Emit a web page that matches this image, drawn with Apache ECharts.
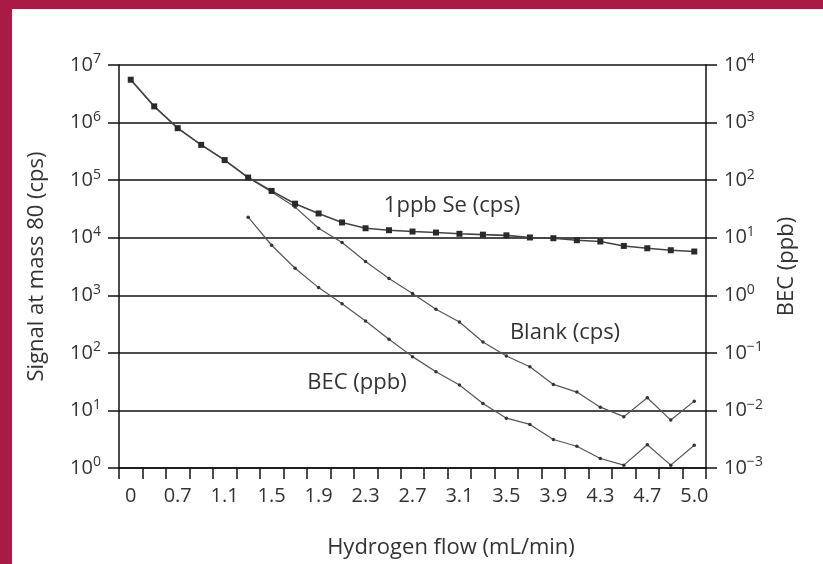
<!DOCTYPE html>
<html><head><meta charset="utf-8">
<script src="https://cdn.jsdelivr.net/npm/echarts@6/dist/echarts.min.js"></script>
<style>html,body{margin:0;padding:0;background:#fff}#c{width:823px;height:564px}</style>
</head><body><div id="c"></div>
<script>
var categories = ['0','0.5','0.7','0.9','1.1','1.3','1.5','1.7','1.9','2.1','2.3','2.5','2.7','2.9','3.1','3.3','3.5','3.7','3.9','4.1','4.3','4.5','4.7','4.9','5.0'];
var seSignal = [5.55e6,1.91e6,8.0e5,4.1e5,2.23e5,1.11e5,6.5e4,3.9e4,2.64e4,1.84e4,1.46e4,1.35e4,1.28e4,1.23e4,1.17e4,1.13e4,1.1e4,1.01e4,9.8e3,9.05e3,8.6e3,7.2e3,6.56e3,6.06e3,5.76e3];
var blank = [5.55e6,1.91e6,8.0e5,4.1e5,2.23e5,1.11e5,6.2e4,3.4e4,1.46e4,8.26e3,3.85e3,1.95e3,1.07e3,571,343,154,88,57.5,28.3,20.8,11.4,7.8,16.6,6.8,14.5];
var bec = [null,null,null,null,null,22.7,7.4,2.95,1.36,0.71,0.357,0.172,0.086,0.0468,0.0277,0.0132,0.00734,0.00571,0.00313,0.00239,0.00146,0.00112,0.00253,0.00112,0.00249];
var seriesNames = ['1ppb Se (cps)','Blank (cps)','BEC (ppb)'];

var FONT = '"Open Sans"';
var TXT = '#333';
function powLabel(v){
  var e = Math.round(Math.log10(v));
  var s = e < 0 ? '\u2212' + (-e) : String(e);
  return '10{sup|' + s + '}';
}
var richSup = { sup: { fontSize: 14, fontFamily: FONT, color: TXT, padding: [0,0,11,0] } };

var chart = echarts.init(document.getElementById('c'));
chart.setOption({
  backgroundColor: '#fff',
  animation: false,
  grid: { left: 119, right: 117, top: 65, bottom: 96, containLabel: false },
  xAxis: {
    type: 'category', data: categories, boundaryGap: true,
    axisLine: { lineStyle: { color: '#111', width: 1.5 } },
    axisTick: { show: true, interval: 0, length: 11, inside: false, lineStyle: { color: '#111', width: 1.5 } },
    axisLabel: { interval: 1, color: TXT, fontFamily: FONT, fontSize: 20, margin: 18 },
    splitLine: { show: false }
  },
  yAxis: [
    { type: 'log', logBase: 10, min: 1, max: 1e7, position: 'left',
      name: 'Signal at mass 80 (cps)', nameLocation: 'middle', nameGap: 71, nameRotate: 90,
      nameTextStyle: { color: TXT, fontFamily: FONT, fontSize: 22 },
      axisLine: { show: true, lineStyle: { color: '#111', width: 1.5 } },
      axisTick: { show: true, length: 11, lineStyle: { color: '#111', width: 1.5 } },
      axisLabel: { color: TXT, fontFamily: FONT, fontSize: 20, margin: 18, formatter: powLabel, rich: richSup },
      minorTick: { show: false },
      splitLine: { show: true, lineStyle: { color: '#111', width: 1.5 } }
    },
    { type: 'log', logBase: 10, min: 0.001, max: 1e4, position: 'right',
      name: 'BEC (ppb)', nameLocation: 'middle', nameGap: 70, nameRotate: 90,
      nameTextStyle: { color: TXT, fontFamily: FONT, fontSize: 22 },
      axisLine: { show: true, lineStyle: { color: '#111', width: 1.5 } },
      axisTick: { show: true, length: 11, lineStyle: { color: '#111', width: 1.5 } },
      axisLabel: { color: TXT, fontFamily: FONT, fontSize: 20, margin: 18, formatter: powLabel, rich: richSup },
      splitLine: { show: false }
    }
  ],
  series: [
    { name: seriesNames[0], type: 'line', yAxisIndex: 0, data: seSignal,
      symbol: 'rect', symbolSize: 6, itemStyle: { color: '#2a2a2a' },
      lineStyle: { color: '#444', width: 1.6 }, z: 3 },
    { name: seriesNames[1], type: 'line', yAxisIndex: 0, data: blank,
      symbol: 'circle', symbolSize: 3.5, itemStyle: { color: '#333' },
      lineStyle: { color: '#555', width: 1.2 }, z: 2 },
    { name: seriesNames[2], type: 'line', yAxisIndex: 1, data: bec, connectNulls: false,
      symbol: 'circle', symbolSize: 3.5, itemStyle: { color: '#333' },
      lineStyle: { color: '#555', width: 1.2 }, z: 2 }
  ],
  graphic: [
    { type: 'rect', left: 0, top: 0, shape: { width: 12, height: 564 }, style: { fill: '#A91B45' }, z: 100 },
    { type: 'rect', left: 0, top: 0, shape: { width: 823, height: 9 }, style: { fill: '#A91B45' }, z: 100 },
    { type: 'text', x: 452, y: 206, style: { text: seriesNames[0], fill: TXT, font: '22px ' + FONT, textAlign: 'center', textVerticalAlign: 'middle' }, z: 50 },
    { type: 'text', x: 565, y: 333, style: { text: 'Blank (cps)', fill: TXT, font: '22px ' + FONT, textAlign: 'center', textVerticalAlign: 'middle' }, z: 50 },
    { type: 'text', x: 357, y: 383, style: { text: 'BEC (ppb)', fill: TXT, font: '22px ' + FONT, textAlign: 'center', textVerticalAlign: 'middle' }, z: 50 },
    { type: 'text', x: 451, y: 548, style: { text: 'Hydrogen flow (mL/min)', fill: TXT, font: '22px ' + FONT, textAlign: 'center', textVerticalAlign: 'middle' }, z: 50 }
  ]
});
</script></body></html>
